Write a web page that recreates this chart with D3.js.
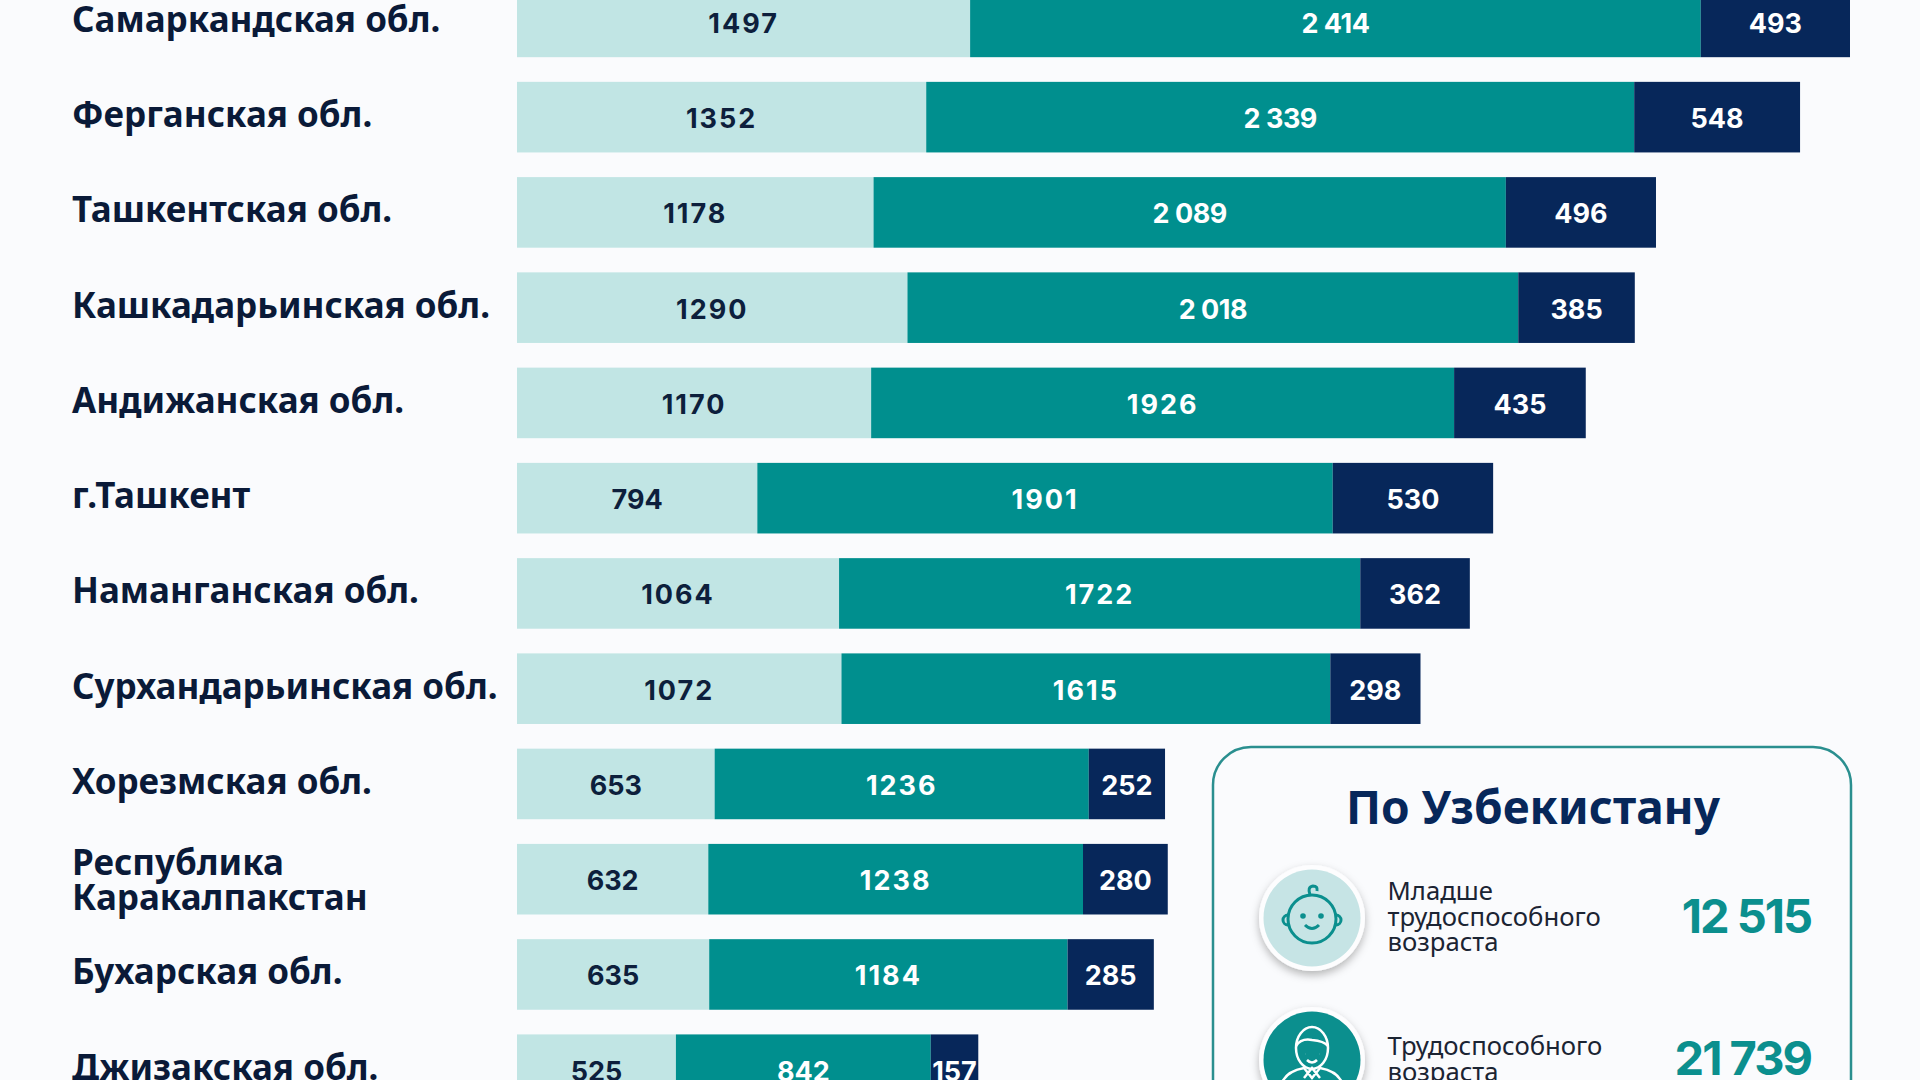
<!DOCTYPE html>
<html>
<head>
<meta charset="utf-8">
<script src="https://cdn.jsdelivr.net/npm/d3@7"></script>
<style>
	html, body { margin: 0; padding: 0; background: #fafbfd; overflow: hidden; }
	svg { display: block; }
</style>
</head>
<body>
<svg id="chart"></svg>
<script>
var regions = ["Самаркандская обл.", "Ферганская обл.", "Ташкентская обл.", "Кашкадарьинская обл.",
	"Андижанская обл.", "г.Ташкент", "Наманганская обл.", "Сурхандарьинская обл.", "Хорезмская обл.",
	"Республика\nКаракалпакстан", "Бухарская обл.", "Джизакская обл."];
var young = [1497, 1352, 1178, 1290, 1170, 794, 1064, 1072, 653, 632, 635, 525];
var working = [2414, 2339, 2089, 2018, 1926, 1901, 1722, 1615, 1236, 1238, 1184, 842];
var older = [493, 548, 496, 385, 435, 530, 362, 298, 252, 280, 285, 157];

var panelTitle = "По Узбекистану";
var panelLabels = [["Младше", "трудоспособного", "возраста"], ["Трудоспособного", "возраста"]];
var panelTotals = ["12 515", "21 739"];

var colors = {
	"young" : "#c1e5e4",
	"working" : "#008f8e",
	"older" : "#07275a"
};
var textColors = {
	"young" : "#0d1f3c",
	"working" : "#ffffff",
	"older" : "#ffffff"
};
var W = 1920, H = 1080;
var sans = "'Noto Sans', 'Open Sans', sans-serif";

var svg = d3.select("#chart").attr("width", W).attr("height", H);

var defs = svg.append("defs");
var shadow = defs.append("filter").attr("id", "shadow")
	.attr("x", "-30%").attr("y", "-30%").attr("width", "160%").attr("height", "170%");
shadow.append("feDropShadow").attr("dx", 0).attr("dy", 4).attr("stdDeviation", 4)
	.attr("flood-color", "#000").attr("flood-opacity", 0.28);

var rows = regions.map(function(name, i) {
	return { name: name, young: young[i], working: working[i], older: older[i] };
});
var keys = ["young", "working", "older"];
var stacked = d3.stack().keys(keys)(rows);

var x = d3.scaleLinear().domain([0, 4404]).range([517, 1850]);
var y = d3.scaleBand().domain(regions).range([-13.4, 1105]).paddingInner(0.259);

function fmt(v) {
	// only the 2 000+ values have a visible gap in the picture
	return v >= 2000 ? d3.format(",")(v).replace(",", " ") : String(v);
}

// bars
var layers = svg.selectAll("g.layer").data(stacked).enter().append("g")
	.attr("class", "layer")
	.attr("fill", function(d) { return colors[d.key]; });

layers.selectAll("rect").data(function(d) { return d; }).enter().append("rect")
	.attr("x", function(d) { return x(d[0]); })
	.attr("y", function(d) { return y(d.data.name); })
	.attr("width", function(d) { return x(d[1]) - x(d[0]); })
	.attr("height", y.bandwidth());

// values inside the bars
layers.selectAll("text").data(function(d) {
		return d.map(function(e) { return { e: e, key: d.key }; });
	}).enter().append("text")
	.attr("x", function(d) { return (x(d.e[0]) + x(d.e[1])) / 2; })
	.attr("y", function(d) { return y(d.e.data.name) + y.bandwidth() / 2 + 11; })
	.attr("text-anchor", "middle")
	.attr("font-family", "Inter, sans-serif")
	.attr("font-weight", 700)
	.attr("font-size", "27px")
	.attr("letter-spacing", function(d) {
		var v = d.e.data[d.key];
		return v >= 2000 ? "-0.5px" : (v >= 1000 ? "2px" : "0px");
	})
	.attr("fill", function(d) { return textColors[d.key]; })
	.text(function(d) { return fmt(d.e.data[d.key]); });

// region names
var names = svg.selectAll("text.region").data(regions).enter().append("text")
	.attr("class", "region")
	.attr("font-family", sans)
	.attr("font-weight", 700)
	.attr("font-size", "35px")
	.attr("fill", "#0a1a38");

names.each(function(d) {
	var lines = d.split("\n");
	var cy = y(d) + y.bandwidth() / 2;
	var el = d3.select(this);
	lines.forEach(function(line, i) {
		el.append("tspan")
			.attr("x", 72)
			.attr("y", lines.length > 1 ? cy - 4 + i * 35 : cy + 10)
			.text(line);
	});
});

// summary panel, runs off the bottom of the picture
var panel = svg.append("g");
panel.append("rect")
	.attr("x", 1213).attr("y", 747)
	.attr("width", 638).attr("height", 420)
	.attr("rx", 38)
	.attr("fill", "#fafbfd")
	.attr("stroke", "#2a8f8f")
	.attr("stroke-width", 2.5);

panel.append("text")
	.attr("x", 1533).attr("y", 824)
	.attr("text-anchor", "middle")
	.attr("font-family", sans)
	.attr("font-weight", 700)
	.attr("font-size", "46px")
	.attr("fill", "#07275a")
	.text(panelTitle);

var items = [
	{ cy: 918, fill: "#c6e4e5", labels: panelLabels[0], total: panelTotals[0], firstLine: 900, totalY: 933, icon: babyIcon },
	{ cy: 1060, fill: "#0b8f8e", labels: panelLabels[1], total: panelTotals[1], firstLine: 1055, totalY: 1075, icon: manIcon }
];

items.forEach(function(item) {
	panel.append("circle")
		.attr("cx", 1312).attr("cy", item.cy).attr("r", 53)
		.attr("fill", "#fdfdfe")
		.attr("filter", "url(#shadow)");
	panel.append("circle")
		.attr("cx", 1312).attr("cy", item.cy).attr("r", 48.5)
		.attr("fill", item.fill);
	item.icon(panel.append("g").attr("transform", "translate(1312," + item.cy + ")"));

	item.labels.forEach(function(line, i) {
		panel.append("text")
			.attr("x", 1387.5).attr("y", item.firstLine + i * 25.7)
			.attr("font-family", sans)
			.attr("font-size", "25.7px")
			.attr("fill", "#1b2433")
			.text(line);
	});

	panel.append("text")
		.attr("x", 1811).attr("y", item.totalY)
		.attr("text-anchor", "end")
		.attr("font-family", "Inter, sans-serif")
		.attr("font-weight", 700)
		.attr("font-size", "47px")
		.attr("letter-spacing", "-2px")
		.attr("fill", "#0b8f8e")
		.text(item.total);
});

function babyIcon(g) {
	var c = "#0b8f8e";
	g.append("circle").attr("cx", 0).attr("cy", 1).attr("r", 24)
		.attr("fill", "none").attr("stroke", c).attr("stroke-width", 3);
	g.append("path").attr("d", "M-24,-3 a5,5 0 1 0 0,10 M24,-3 a5,5 0 1 1 0,10 M-2,-23 q-3,-8 3,-9 q5,0 4,5")
		.attr("fill", "none").attr("stroke", c).attr("stroke-width", 3);
	g.append("circle").attr("cx", -9).attr("cy", -2).attr("r", 2.8).attr("fill", c);
	g.append("circle").attr("cx", 9).attr("cy", -2).attr("r", 2.8).attr("fill", c);
	g.append("path").attr("d", "M-7,7 q7,7 14,0")
		.attr("fill", "none").attr("stroke", c).attr("stroke-width", 3);
}

function manIcon(g) {
	var c = "#ffffff";
	g.append("ellipse").attr("cx", 0).attr("cy", -12).attr("rx", 16).attr("ry", 21)
		.attr("fill", "none").attr("stroke", c).attr("stroke-width", 2.5);
	g.append("path").attr("d", "M-16,-14 q5,-8 16,-6 q12,1 16,6 M-7,-6 h0.1 M7,-6 h0.1 M-5,0 q5,5 10,0")
		.attr("fill", "none").attr("stroke", c).attr("stroke-width", 2.5);
	g.append("path").attr("d", "M-32,30 q2,-18 24,-22 l8,10 l8,-10 q22,4 24,22 M-8,18 l8,-10 l8,10")
		.attr("fill", "none").attr("stroke", c).attr("stroke-width", 2.5);
}
</script>
</body>
</html>
